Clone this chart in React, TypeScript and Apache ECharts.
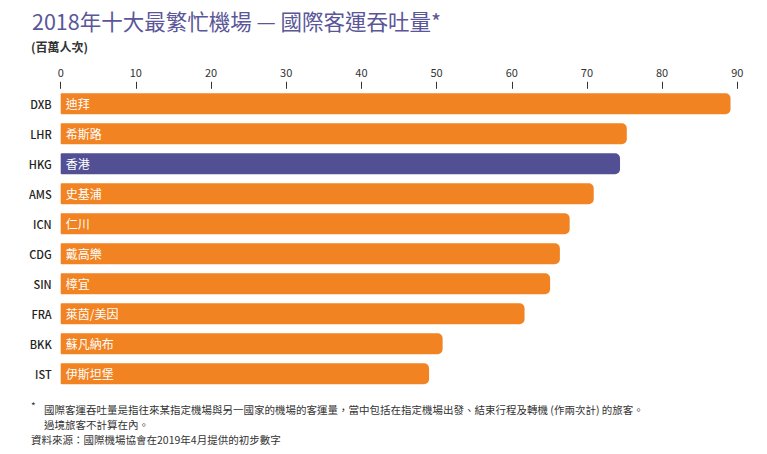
import React, { useEffect, useRef } from "react";
import * as echarts from "echarts";

const codes = ["DXB", "LHR", "HKG", "AMS", "ICN", "CDG", "SIN", "FRA", "BKK", "IST"];
const names = ["迪拜", "希斯路", "香港", "史基浦", "仁川", "戴高樂", "樟宜", "萊茵/美因", "蘇凡納布", "伊斯坦堡"];
const passengers = [89.1, 75.3, 74.4, 70.9, 67.7, 66.4, 65.1, 61.7, 50.8, 49.0];
const highlight = "HKG";

const titleText = "2018年十大最繁忙機場 — 國際客運吞吐量*";
const unitText = "(百萬人次)";
const note1 = "國際客運吞吐量是指往來某指定機場與另一國家的機場的客運量，當中包括在指定機場出發、結束行程及轉機 (作兩次計) 的旅客。";
const note2 = "過境旅客不計算在內。";
const sourceText = "資料來源：國際機場協會在2019年4月提供的初步數字";

const ORANGE = "#F28322";
const PURPLE = "#524F95";
const FONT = "'Noto Sans CJK TC', 'Noto Sans', sans-serif";

export default function App() {
  const ref = useRef<HTMLDivElement>(null);
  useEffect(() => {
    if (!ref.current) return;
    const chart = echarts.init(ref.current, undefined, { renderer: "svg" });
    chart.setOption({
      animation: false,
      backgroundColor: "#ffffff",
      textStyle: { fontFamily: FONT },
      grid: { left: 60.7, right: 29.7, top: 88.8, bottom: 65.2, containLabel: false },
      xAxis: {
        type: "value",
        position: "top",
        min: 0,
        max: 90,
        interval: 10,
        axisLine: { show: false },
        axisTick: { show: true, length: 7, lineStyle: { color: "#333", width: 1 } },
        splitLine: { show: false },
        axisLabel: { color: "#333", fontSize: 11, margin: 11, fontFamily: FONT },
      },
      yAxis: {
        type: "category",
        inverse: true,
        data: codes,
        axisLine: { show: false },
        axisTick: { show: false },
        axisLabel: { color: "#222", fontSize: 11, margin: 9, fontFamily: FONT, fontWeight: 500 },
      },
      series: [
        {
          type: "bar",
          barCategoryGap: "30%",
          data: passengers.map((v, i) => ({
            value: v,
            itemStyle: { color: codes[i] === highlight ? PURPLE : ORANGE },
          })),
          itemStyle: { borderRadius: [1, 5, 5, 1] },
          label: {
            show: true,
            position: "insideLeft",
            distance: 5,
            color: "#ffffff",
            fontSize: 12,
            fontFamily: FONT,
            formatter: (p: any) => names[p.dataIndex],
          },
        },
      ],
      graphic: [
        {
          type: "text",
          left: 32,
          top: 10,
          style: { text: titleText, fill: "#5A5698", fontSize: 21.5, fontFamily: FONT, fontWeight: "normal" },
        },
        {
          type: "text",
          left: 31,
          top: 40,
          style: { text: unitText, fill: "#333", fontSize: 12, fontFamily: FONT, fontWeight: "bold" },
        },
        {
          type: "text",
          left: 31,
          top: 400,
          style: { text: "*", fill: "#333", fontSize: 10, fontFamily: FONT },
        },
        {
          type: "text",
          left: 44,
          top: 404,
          style: { text: note1, fill: "#333", fontSize: 10.5, fontFamily: FONT },
        },
        {
          type: "text",
          left: 44,
          top: 419,
          style: { text: note2, fill: "#333", fontSize: 10.5, fontFamily: FONT },
        },
        {
          type: "text",
          left: 31,
          top: 434,
          style: { text: sourceText, fill: "#333", fontSize: 10.5, fontFamily: FONT },
        },
      ],
    });
    return () => chart.dispose();
  }, []);
  return (
    <div
      ref={ref}
      style={{ position: "fixed", left: 0, top: 0, width: 767, height: 454, background: "#fff" }}
    />
  );
}
